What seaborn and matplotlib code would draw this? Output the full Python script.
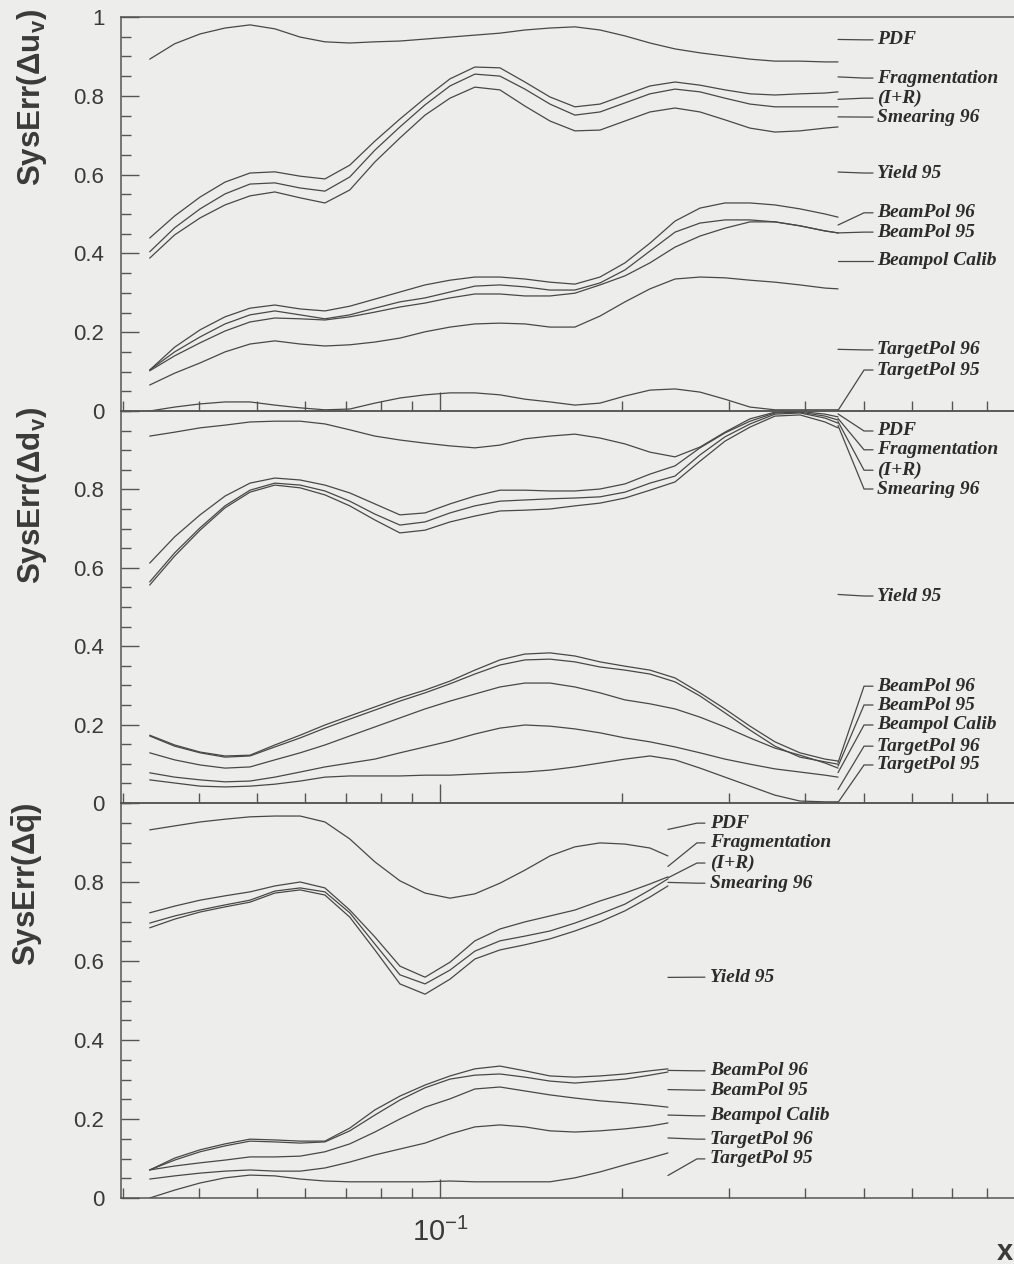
import numpy as np
import pandas as pd
import matplotlib
matplotlib.use("Agg")
import matplotlib.pyplot as plt
from matplotlib.ticker import FixedLocator, MultipleLocator, NullFormatter, FormatStrFormatter
import seaborn as sns

# ---------------------------------------------------------------------------
# Cumulative relative contributions of the systematic error sources.
# Each list is the lower edge of the band belonging to the named source
# (the band of a source lies between its list and the one above it; the
# top of the stack is 1, the bottom 0).
# ---------------------------------------------------------------------------
sources = ["PDF", "Fragmentation", "(I+R)", "Smearing 96", "Yield 95",
           "BeamPol 96", "BeamPol 95", "Beampol Calib", "TargetPol 96", "TargetPol 95"]

# Bjorken-x grid of the valence (u_v, d_v) and sea results
x_val = [0.0332, 0.0365, 0.0402, 0.0442, 0.0486, 0.0534, 0.0588, 0.0646, 0.0710, 0.0781,
         0.0859, 0.0945, 0.1039, 0.1142, 0.1256, 0.1381, 0.1519, 0.1670, 0.1837, 0.2020,
         0.2221, 0.2443, 0.2686, 0.2953, 0.3248, 0.3571, 0.3927, 0.4319, 0.4538]
x_sea = [0.0332, 0.0365, 0.0402, 0.0442, 0.0486, 0.0534, 0.0588, 0.0646, 0.0710, 0.0781,
         0.0859, 0.0945, 0.1039, 0.1142, 0.1256, 0.1381, 0.1519, 0.1670, 0.1837, 0.2020,
         0.2221, 0.2378]

# Delta u_v
uv_pdf = [0.893, 0.932, 0.957, 0.972, 0.980, 0.970, 0.949, 0.937, 0.934, 0.937, 0.939, 0.944, 0.949, 0.954, 0.959,
          0.967, 0.972, 0.975, 0.967, 0.952, 0.934, 0.919, 0.909, 0.901, 0.893, 0.888, 0.888, 0.886, 0.886]
uv_frag = [0.439, 0.495, 0.543, 0.581, 0.604, 0.607, 0.596, 0.589, 0.624, 0.685, 0.741, 0.794, 0.843, 0.873, 0.871,
           0.835, 0.797, 0.772, 0.779, 0.802, 0.825, 0.835, 0.827, 0.815, 0.805, 0.802, 0.805, 0.807, 0.810]
uv_ir = [0.404, 0.465, 0.513, 0.551, 0.576, 0.579, 0.566, 0.558, 0.594, 0.662, 0.721, 0.777, 0.825, 0.855, 0.850,
         0.817, 0.779, 0.751, 0.759, 0.782, 0.805, 0.817, 0.810, 0.794, 0.779, 0.772, 0.772, 0.772, 0.772]
uv_smear = [0.388, 0.447, 0.490, 0.523, 0.546, 0.556, 0.541, 0.528, 0.561, 0.632, 0.693, 0.751, 0.794, 0.822, 0.815,
            0.774, 0.736, 0.711, 0.713, 0.736, 0.759, 0.769, 0.759, 0.739, 0.718, 0.708, 0.711, 0.718, 0.721]
uv_yield = [0.104, 0.162, 0.206, 0.239, 0.261, 0.269, 0.259, 0.254, 0.266, 0.284, 0.302, 0.320, 0.332, 0.340, 0.340,
            0.335, 0.327, 0.322, 0.340, 0.376, 0.426, 0.482, 0.515, 0.528, 0.528, 0.523, 0.513, 0.500, 0.492]
uv_bp96 = [0.104, 0.150, 0.188, 0.221, 0.244, 0.254, 0.244, 0.234, 0.244, 0.261, 0.277, 0.287, 0.302, 0.317, 0.320,
           0.315, 0.307, 0.307, 0.325, 0.358, 0.406, 0.454, 0.477, 0.485, 0.485, 0.480, 0.470, 0.457, 0.452]
uv_bp95 = [0.102, 0.140, 0.173, 0.203, 0.226, 0.236, 0.234, 0.231, 0.239, 0.251, 0.264, 0.274, 0.287, 0.297, 0.297,
           0.292, 0.292, 0.299, 0.320, 0.343, 0.376, 0.416, 0.444, 0.464, 0.480, 0.480, 0.470, 0.457, 0.452]
uv_bpcal = [0.066, 0.096, 0.122, 0.150, 0.170, 0.178, 0.170, 0.165, 0.168, 0.175, 0.185, 0.201, 0.213, 0.221, 0.223,
            0.221, 0.213, 0.213, 0.241, 0.277, 0.310, 0.335, 0.340, 0.338, 0.332, 0.327, 0.320, 0.312, 0.310]
uv_tp96 = [0.000, 0.010, 0.018, 0.023, 0.023, 0.015, 0.008, 0.003, 0.005, 0.020, 0.033, 0.041, 0.046, 0.046, 0.041,
           0.030, 0.023, 0.015, 0.020, 0.038, 0.053, 0.056, 0.048, 0.030, 0.010, 0.003, 0.003, 0.003, 0.003]

# Delta d_v
dv_pdf = [0.936, 0.946, 0.957, 0.964, 0.972, 0.974, 0.974, 0.967, 0.952, 0.936, 0.926, 0.918, 0.911, 0.906, 0.913,
          0.929, 0.936, 0.941, 0.931, 0.916, 0.895, 0.883, 0.908, 0.946, 0.980, 0.997, 0.999, 0.992, 0.985]
dv_frag = [0.612, 0.679, 0.735, 0.783, 0.816, 0.829, 0.824, 0.811, 0.791, 0.763, 0.735, 0.740, 0.763, 0.783, 0.798,
           0.798, 0.796, 0.796, 0.801, 0.814, 0.839, 0.860, 0.906, 0.944, 0.974, 0.995, 0.997, 0.987, 0.977]
dv_ir = [0.564, 0.638, 0.702, 0.758, 0.798, 0.816, 0.811, 0.796, 0.770, 0.737, 0.709, 0.717, 0.740, 0.758, 0.770,
         0.773, 0.776, 0.778, 0.781, 0.793, 0.816, 0.834, 0.888, 0.934, 0.967, 0.992, 0.995, 0.982, 0.969]
dv_smear = [0.556, 0.630, 0.696, 0.753, 0.793, 0.811, 0.804, 0.786, 0.758, 0.722, 0.689, 0.696, 0.717, 0.732, 0.745,
            0.747, 0.750, 0.758, 0.765, 0.778, 0.798, 0.819, 0.872, 0.923, 0.959, 0.987, 0.990, 0.972, 0.957]
dv_yield = [0.173, 0.148, 0.130, 0.120, 0.122, 0.148, 0.173, 0.199, 0.222, 0.245, 0.268, 0.288, 0.311, 0.339, 0.365,
            0.380, 0.383, 0.375, 0.360, 0.349, 0.339, 0.319, 0.281, 0.240, 0.196, 0.156, 0.128, 0.112, 0.107]
dv_bp96 = [0.171, 0.145, 0.128, 0.117, 0.120, 0.143, 0.166, 0.191, 0.214, 0.237, 0.260, 0.281, 0.304, 0.329, 0.352,
           0.365, 0.367, 0.360, 0.347, 0.339, 0.329, 0.309, 0.273, 0.230, 0.186, 0.145, 0.117, 0.105, 0.099]
dv_bp95 = [0.128, 0.110, 0.097, 0.089, 0.092, 0.110, 0.128, 0.148, 0.171, 0.194, 0.217, 0.240, 0.260, 0.278, 0.296,
           0.306, 0.306, 0.296, 0.281, 0.263, 0.253, 0.240, 0.219, 0.194, 0.166, 0.140, 0.122, 0.102, 0.089]
dv_bpcal = [0.077, 0.066, 0.059, 0.054, 0.056, 0.066, 0.079, 0.092, 0.102, 0.112, 0.128, 0.143, 0.158, 0.176, 0.191,
            0.199, 0.196, 0.189, 0.179, 0.166, 0.156, 0.143, 0.128, 0.112, 0.099, 0.087, 0.079, 0.071, 0.066]
dv_tp96 = [0.059, 0.051, 0.043, 0.041, 0.043, 0.048, 0.056, 0.066, 0.069, 0.069, 0.069, 0.071, 0.071, 0.074, 0.077,
           0.079, 0.084, 0.092, 0.102, 0.112, 0.120, 0.110, 0.089, 0.066, 0.043, 0.020, 0.005, 0.003, 0.003]

# Delta q-bar (sea)
qs_pdf = [0.932, 0.942, 0.952, 0.959, 0.965, 0.967, 0.967, 0.952, 0.909, 0.851, 0.803, 0.772, 0.759, 0.770, 0.797,
          0.830, 0.866, 0.889, 0.899, 0.896, 0.886, 0.866]
qs_frag = [0.722, 0.739, 0.754, 0.765, 0.775, 0.790, 0.800, 0.785, 0.729, 0.661, 0.587, 0.559, 0.597, 0.651, 0.681,
           0.699, 0.714, 0.729, 0.752, 0.772, 0.795, 0.813]
qs_ir = [0.696, 0.714, 0.729, 0.742, 0.754, 0.777, 0.785, 0.775, 0.722, 0.643, 0.565, 0.542, 0.577, 0.625, 0.651,
         0.663, 0.676, 0.696, 0.719, 0.744, 0.780, 0.808]
qs_smear = [0.684, 0.706, 0.724, 0.737, 0.749, 0.772, 0.780, 0.767, 0.711, 0.628, 0.542, 0.516, 0.554, 0.605, 0.628,
            0.641, 0.656, 0.676, 0.699, 0.727, 0.762, 0.790]
qs_yield = [0.071, 0.101, 0.122, 0.137, 0.149, 0.147, 0.144, 0.144, 0.177, 0.223, 0.258, 0.286, 0.309, 0.327, 0.334,
            0.322, 0.309, 0.306, 0.309, 0.314, 0.322, 0.327]
qs_bp96 = [0.071, 0.096, 0.117, 0.132, 0.144, 0.142, 0.139, 0.142, 0.170, 0.210, 0.248, 0.279, 0.301, 0.311, 0.314,
           0.306, 0.296, 0.291, 0.296, 0.301, 0.311, 0.319]
qs_bp95 = [0.071, 0.081, 0.089, 0.096, 0.104, 0.104, 0.106, 0.117, 0.137, 0.167, 0.200, 0.230, 0.251, 0.276, 0.281,
           0.271, 0.261, 0.253, 0.246, 0.241, 0.235, 0.230]
qs_bpcal = [0.048, 0.056, 0.063, 0.068, 0.071, 0.068, 0.068, 0.076, 0.091, 0.109, 0.124, 0.139, 0.162, 0.180, 0.185,
            0.180, 0.170, 0.167, 0.170, 0.175, 0.182, 0.190]
qs_tp96 = [0.000, 0.020, 0.038, 0.051, 0.058, 0.056, 0.048, 0.043, 0.041, 0.041, 0.041, 0.041, 0.043, 0.041, 0.041,
           0.041, 0.041, 0.051, 0.066, 0.084, 0.101, 0.114]

# Height of the source labels on the right (axis fraction), top to bottom
uv_label_y = [0.942, 0.845, 0.794, 0.746, 0.604, 0.503, 0.454, 0.381, 0.155, 0.104]
dv_label_y = [0.949, 0.901, 0.849, 0.801, 0.528, 0.298, 0.250, 0.199, 0.145, 0.097]
qs_label_y = [0.949, 0.899, 0.848, 0.797, 0.559, 0.322, 0.273, 0.208, 0.149, 0.099]

panels = [
    dict(x=x_val, bounds=[uv_pdf, uv_frag, uv_ir, uv_smear, uv_yield, uv_bp96, uv_bp95, uv_bpcal, uv_tp96],
         label_y=uv_label_y, ylabel=r"SysErr($\mathbf{\Delta u_v}$)", ylab_pos=(32, 98), label_dx=(26, 35, 39)),
    dict(x=x_val, bounds=[dv_pdf, dv_frag, dv_ir, dv_smear, dv_yield, dv_bp96, dv_bp95, dv_bpcal, dv_tp96],
         label_y=dv_label_y, ylabel=r"SysErr($\mathbf{\Delta d_v}$)", ylab_pos=(32, 496), label_dx=(26, 35, 39)),
    dict(x=x_sea, bounds=[qs_pdf, qs_frag, qs_ir, qs_smear, qs_yield, qs_bp96, qs_bp95, qs_bpcal, qs_tp96],
         label_y=qs_label_y, ylabel=r"SysErr($\mathbf{\Delta\bar{q}}$)", ylab_pos=(28, 884), label_dx=(29, 37, 42)),
]

# ---------------------------------------------------------------------------
sns.set_style("ticks")
paper = "#ededeb"
ink = "#3a3a3a"
plt.rcParams.update({
    "font.family": ["Liberation Sans", "DejaVu Sans"],
    "mathtext.fontset": "custom",
    "mathtext.rm": "Liberation Sans",
    "mathtext.bf": "Liberation Sans:bold",
    "mathtext.it": "Liberation Sans:italic",
    "axes.edgecolor": "#555555",
    "axes.linewidth": 1.1,
    "xtick.color": "#555555",
    "ytick.color": "#555555",
    "xtick.labelcolor": ink,
    "ytick.labelcolor": ink,
})

W, H = 1014, 1264
fig = plt.figure(figsize=(W / 100, H / 100), dpi=100, facecolor=paper)

x_lo, x_hi = 0.02977, 1.0
left_px, right_px = 121, 1046
frames = [(17, 411), (411, 803), (803, 1198)]

label_font = dict(family=["Liberation Serif", "DejaVu Serif"], weight="bold", style="italic", size=14)

for i, (p, (top_px, bot_px)) in enumerate(zip(panels, frames)):
    ax = fig.add_axes([left_px / W, 1 - bot_px / H, (right_px - left_px) / W, (bot_px - top_px) / H])
    ax.set_facecolor("none")
    ax.set_xscale("log")
    ax.set_xlim(x_lo, x_hi)
    ax.set_ylim(0, 1)

    rows = []
    for k, b in enumerate(p["bounds"]):
        for xv, yv in zip(p["x"], b):
            rows.append({"x": xv, "frac": yv, "edge": k})
    df = pd.DataFrame(rows)
    sns.lineplot(data=df, x="x", y="frac", units="edge", estimator=None,
                 color="#484848", linewidth=0.9, ax=ax, legend=False)

    # leader lines and source names at the right end of the curves
    x_end = p["x"][-1]
    edges = [1.0] + [b[-1] for b in p["bounds"]] + [0.0]
    fig.canvas.draw()
    to_disp = ax.transData.transform
    to_data = ax.transData.inverted().transform
    xe_disp = to_disp((x_end, 0))[0]
    dk, ds, dt = p["label_dx"]
    x_kink = to_data((xe_disp + dk, 0))[0]
    x_stop = to_data((xe_disp + ds, 0))[0]
    x_text = to_data((xe_disp + dt, 0))[0]
    for j, name in enumerate(sources):
        mid = 0.5 * (edges[j] + edges[j + 1])
        ly = p["label_y"][j]
        ax.plot([x_end, x_kink, x_stop], [mid, ly, ly], color="#484848", lw=0.9,
                clip_on=False, solid_joinstyle="miter")
        ax.text(x_text, ly, name, ha="left", va="center", color="#2c2c2c",
                clip_on=False, **label_font)

    # axes furniture
    ax.tick_params(axis="both", which="both", direction="in", top=False, right=False)
    ax.tick_params(axis="y", which="major", length=13, width=1.0, pad=12, labelsize=16)
    ax.tick_params(axis="y", which="minor", length=7, width=1.0)
    ax.tick_params(axis="x", which="major", length=14, width=1.0, pad=14, labelsize=21)
    ax.tick_params(axis="x", which="minor", length=7, width=1.0)
    ax.yaxis.set_major_locator(FixedLocator([0, 0.2, 0.4, 0.6, 0.8, 1.0] if i == 0 else [0, 0.2, 0.4, 0.6, 0.8]))
    ax.yaxis.set_minor_locator(MultipleLocator(0.05))
    ax.yaxis.set_major_formatter(FormatStrFormatter("%g"))
    ax.xaxis.set_major_locator(FixedLocator([0.1, 1.0]))
    ax.xaxis.set_minor_locator(FixedLocator([0.03, 0.04, 0.05, 0.06, 0.07, 0.08, 0.09,
                                             0.2, 0.3, 0.4, 0.5, 0.6, 0.7, 0.8, 0.9]))
    ax.xaxis.set_minor_formatter(NullFormatter())
    if i < 2:
        ax.xaxis.set_major_formatter(NullFormatter())
    else:
        ax.set_xticks([0.1, 1.0], labels=[r"$\mathregular{10^{-1}}$", ""])
    ax.set_xlabel("")
    ax.set_ylabel("")
    for side in ("top", "right", "left", "bottom"):
        ax.spines[side].set_visible(True)

    fig.text(p["ylab_pos"][0] / W, 1 - p["ylab_pos"][1] / H, p["ylabel"], rotation=90,
             ha="center", va="center", fontsize=22.5, fontweight="bold", color=ink)

fig.text(997 / W, 1 - 1260 / H, "x", ha="left", va="baseline", fontsize=21,
         fontweight="bold", color=ink)

fig.savefig("out.png", dpi=100, facecolor=paper)
